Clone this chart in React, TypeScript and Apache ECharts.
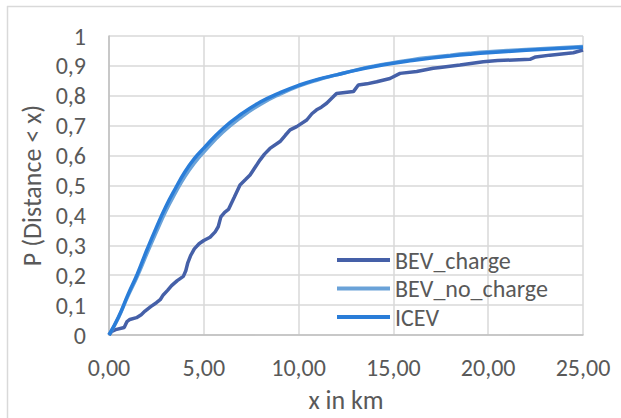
import React, { useEffect, useRef } from "react";
import * as echarts from "echarts";

const seriesNames = ["BEV_charge", "BEV_no_charge", "ICEV"];

const bevChargeX = [0, 0.15, 0.35, 0.8, 0.95, 1.1, 1.45, 1.7, 1.9, 2.2, 2.5, 2.7, 2.86, 3.1, 3.3, 3.6, 3.92, 4.05, 4.15, 4.3, 4.5, 4.75, 5.0, 5.33, 5.6, 5.76, 5.9, 6.1, 6.3, 6.45, 6.6, 6.91, 7.2, 7.44, 7.7, 7.96, 8.2, 8.49, 9.02, 9.3, 9.55, 9.9, 10.43, 10.7, 10.95, 11.2, 11.48, 11.8, 12.0, 12.89, 13.15, 13.6, 14.12, 14.82, 15.35, 16.23, 17.1, 17.46, 18.51, 19.74, 20.5, 22.2, 22.5, 23.26, 24.49, 25];
const bevChargeY = [0, 0.012, 0.018, 0.025, 0.045, 0.052, 0.058, 0.068, 0.08, 0.095, 0.108, 0.118, 0.134, 0.15, 0.165, 0.182, 0.196, 0.215, 0.24, 0.265, 0.288, 0.305, 0.316, 0.327, 0.345, 0.362, 0.395, 0.41, 0.42, 0.44, 0.46, 0.502, 0.52, 0.535, 0.56, 0.585, 0.605, 0.624, 0.647, 0.668, 0.686, 0.697, 0.719, 0.74, 0.753, 0.762, 0.775, 0.795, 0.808, 0.814, 0.836, 0.84, 0.847, 0.858, 0.875, 0.881, 0.892, 0.895, 0.903, 0.914, 0.918, 0.922, 0.93, 0.936, 0.944, 0.953];

const smoothX = [0, 0.5, 1, 1.5, 2, 2.5, 3, 3.5, 4, 4.5, 5, 6, 7, 8, 9, 10, 11, 12, 13, 14, 15, 16, 17, 18, 19, 20, 22, 25];
const bevNoChargeY = [0, 0.058, 0.13, 0.197, 0.272, 0.345, 0.415, 0.475, 0.53, 0.575, 0.612, 0.678, 0.73, 0.772, 0.805, 0.832, 0.853, 0.87, 0.886, 0.9, 0.911, 0.921, 0.929, 0.936, 0.942, 0.947, 0.955, 0.965];
const icevY = [0, 0.06, 0.135, 0.205, 0.285, 0.36, 0.43, 0.49, 0.545, 0.59, 0.625, 0.69, 0.74, 0.78, 0.81, 0.835, 0.855, 0.87, 0.885, 0.898, 0.909, 0.918, 0.926, 0.933, 0.939, 0.944, 0.952, 0.962];

const colors = ["#4560a8", "#6aa2d8", "#2a7dd8"];
const FONT = "Carlito, Calibri, Lato, sans-serif";
const FS = 24;
const FS_TITLE = 26;

const zip = (xs: number[], ys: number[]) => xs.map((x, i) => [x, ys[i]]);

export default function App() {
  const ref = useRef<HTMLDivElement>(null);
  useEffect(() => {
    if (!ref.current) return;
    const chart = echarts.init(ref.current, null, { renderer: "svg" });
    const dataSets = [zip(bevChargeX, bevChargeY), zip(smoothX, bevNoChargeY), zip(smoothX, icevY)];
    chart.setOption({
      animation: false,
      backgroundColor: "#ffffff",
      textStyle: { fontFamily: FONT },
      grid: { left: 109, right: 38, top: 36, bottom: 83 },
      graphic: [
        { type: "line", shape: { x1: 7.5, y1: 6, x2: 7.5, y2: 418 }, style: { stroke: "#d9d9d9", lineWidth: 1.5 } },
        { type: "line", shape: { x1: 7, y1: 6.5, x2: 621, y2: 6.5 }, style: { stroke: "#d9d9d9", lineWidth: 1.5 } },
      ],
      legend: {
        orient: "vertical",
        left: 337,
        top: 248,
        padding: 0,
        itemWidth: 53,
        itemHeight: 4,
        itemGap: 4.5,
        icon: "rect",
        textStyle: { color: "#595959", fontSize: FS, fontFamily: FONT },
        data: seriesNames,
      },
      xAxis: {
        type: "value",
        min: 0,
        max: 25,
        interval: 5,
        name: "x in km",
        nameLocation: "middle",
        nameGap: 52,
        nameTextStyle: { color: "#595959", fontSize: FS_TITLE, fontFamily: FONT },
        axisLine: { show: true, lineStyle: { color: "#bfbfbf", width: 1.5 } },
        axisTick: { show: false },
        axisLabel: {
          color: "#595959",
          fontSize: FS,
          fontFamily: FONT,
          margin: 20,
          formatter: (v: number) => v.toFixed(2).replace(".", ","),
        },
        splitLine: { show: true, lineStyle: { color: "#d9d9d9", width: 1.5 } },
      },
      yAxis: {
        type: "value",
        min: 0,
        max: 1,
        interval: 0.1,
        name: "P (Distance < x)",
        nameLocation: "middle",
        nameGap: 61,
        nameRotate: 90,
        nameTextStyle: { color: "#595959", fontSize: FS_TITLE, fontFamily: FONT },
        axisLine: { show: true, lineStyle: { color: "#bfbfbf", width: 1.5 } },
        axisTick: { show: false },
        axisLabel: {
          color: "#595959",
          fontSize: FS,
          fontFamily: FONT,
          margin: 23,
          formatter: (v: number) => {
            const r = Math.round(v * 10) / 10;
            if (r === 0) return "0";
            if (r === 1) return "1";
            return r.toFixed(1).replace(".", ",");
          },
        },
        splitLine: { show: true, lineStyle: { color: "#d9d9d9", width: 1.5 } },
      },
      series: seriesNames.map((name, i) => ({
        name,
        type: "line",
        data: dataSets[i],
        showSymbol: false,
        smooth: i === 0 ? false : 0.5,
        color: colors[i],
        lineStyle: { color: colors[i], width: 3.5 },
        z: 2 + i,
      })),
    });
    return () => chart.dispose();
  }, []);
  return <div ref={ref} style={{ position: "absolute", left: 0, top: 0, width: 621, height: 418 }} />;
}
